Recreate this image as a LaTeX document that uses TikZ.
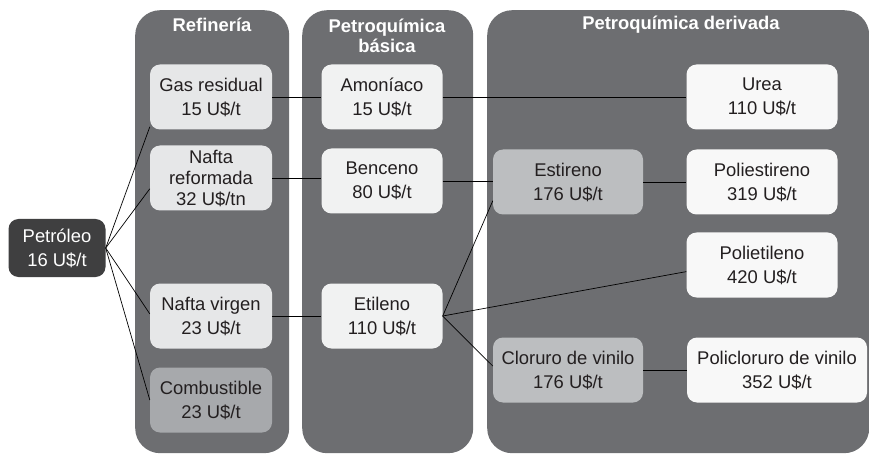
\documentclass[tikz,border=0pt]{standalone}
\usepackage{fontspec}
\setmainfont{Liberation Sans}
\definecolor{panelgray}{HTML}{6D6E71}
\definecolor{darkbox}{HTML}{3F3F40}
\definecolor{refbox}{HTML}{E6E7E8}
\definecolor{basbox}{HTML}{F1F2F2}
\definecolor{derbox}{HTML}{F8F8F8}
\definecolor{midbox}{HTML}{BCBEC0}
\definecolor{combox}{HTML}{A7A9AC}
\definecolor{txt}{HTML}{231F20}
\tikzset{
  panelbox/.style={fill=panelgray, draw=none, rounded corners=25pt, anchor=north west, inner sep=0pt},
  paneltitle/.style={text=white, font=\fontsize{18.4}{19.5}\selectfont\bfseries, align=center, inner sep=0pt},
  itembox/.style={rounded corners=10pt, minimum width=122pt, minimum height=65pt, align=center,
    font=\fontsize{18.4}{24}\selectfont, text=txt, inner sep=2pt, draw=none},
  link/.style={draw=black, line width=0.7pt}
}
\begin{document}
\begin{tikzpicture}[x=1pt,y=-1pt]
\useasboundingbox (0,0) rectangle (869,454);
% panels
\node[panelbox, minimum width=154pt, minimum height=443pt] (p1) at (135,10) {};
\node[panelbox, minimum width=171pt, minimum height=443pt] (p2) at (302,10) {};
\node[panelbox, minimum width=382pt, minimum height=443pt] (p3) at (487,10) {};
\node[paneltitle] (t1) at (212,25) {Refinería};
\node[paneltitle] (t2) at (387,36) {Petroquímica\\básica};
\node[paneltitle] (t3) at (681,25) {Petroquímica derivada};
% nodes
\node[itembox, fill=darkbox, text=white, minimum width=97pt, minimum height=58pt] (petro) at (57,248) {Petróleo\\16 U\$/t};
\node[itembox, fill=refbox] (gas) at (211,97) {Gas residual\\15 U\$/t};
\node[itembox, fill=refbox, font=\fontsize{18.4}{21}\selectfont] (nr) at (211,178) {Nafta\\reformada\\32 U\$/tn};
\node[itembox, fill=refbox] (nv) at (211,316) {Nafta virgen\\23 U\$/t};
\node[itembox, fill=combox] (comb) at (211,400) {Combustible\\23 U\$/t};
\node[itembox, fill=basbox, minimum width=121pt] (amon) at (382,97) {Amoníaco\\15 U\$/t};
\node[itembox, fill=basbox, minimum width=121pt] (benc) at (382,181) {Benceno\\80 U\$/t};
\node[itembox, fill=basbox, minimum width=121pt] (etil) at (382,316) {Etileno\\110 U\$/t};
\node[itembox, fill=midbox, minimum width=150pt] (estir) at (568,182) {Estireno\\176 U\$/t};
\node[itembox, fill=midbox, minimum width=150pt] (clor) at (568,370) {Cloruro de vinilo\\176 U\$/t};
\node[itembox, fill=derbox, minimum width=151pt] (urea) at (762,97) {Urea\\110 U\$/t};
\node[itembox, fill=derbox, minimum width=151pt] (polie) at (762,182) {Poliestireno\\319 U\$/t};
\node[itembox, fill=derbox, minimum width=151pt] (polit) at (762,265) {Polietileno\\420 U\$/t};
\node[itembox, fill=derbox, minimum width=180pt] (pvc) at (777,370) {Policloruro de vinilo\\352 U\$/t};
% connectors
\draw[link] (petro.east) -- (gas.206);
\draw[link] (petro.east) -- (nr.190);
\draw[link] (petro.east) -- (nv.178);
\draw[link] (petro.east) -- (comb.west);
\draw[link] (gas.east) -- (amon.west);
\draw[link] (amon.east) -- (urea.west);
\draw[link] (nr.east) -- (nr.east -| benc.west);
\draw[link] (benc.east) -- (benc.east -| estir.west);
\draw[link] (estir.east) -- (estir.east -| polie.west);
\draw[link] (nv.east) -- (etil.west);
\draw[link] (etil.east) -- (estir.194);
\draw[link] (etil.east) -- (polit.185);
\draw[link] (etil.east) -- (clor.177);
\draw[link] (clor.east) -- (pvc.west);
\end{tikzpicture}
\end{document}
